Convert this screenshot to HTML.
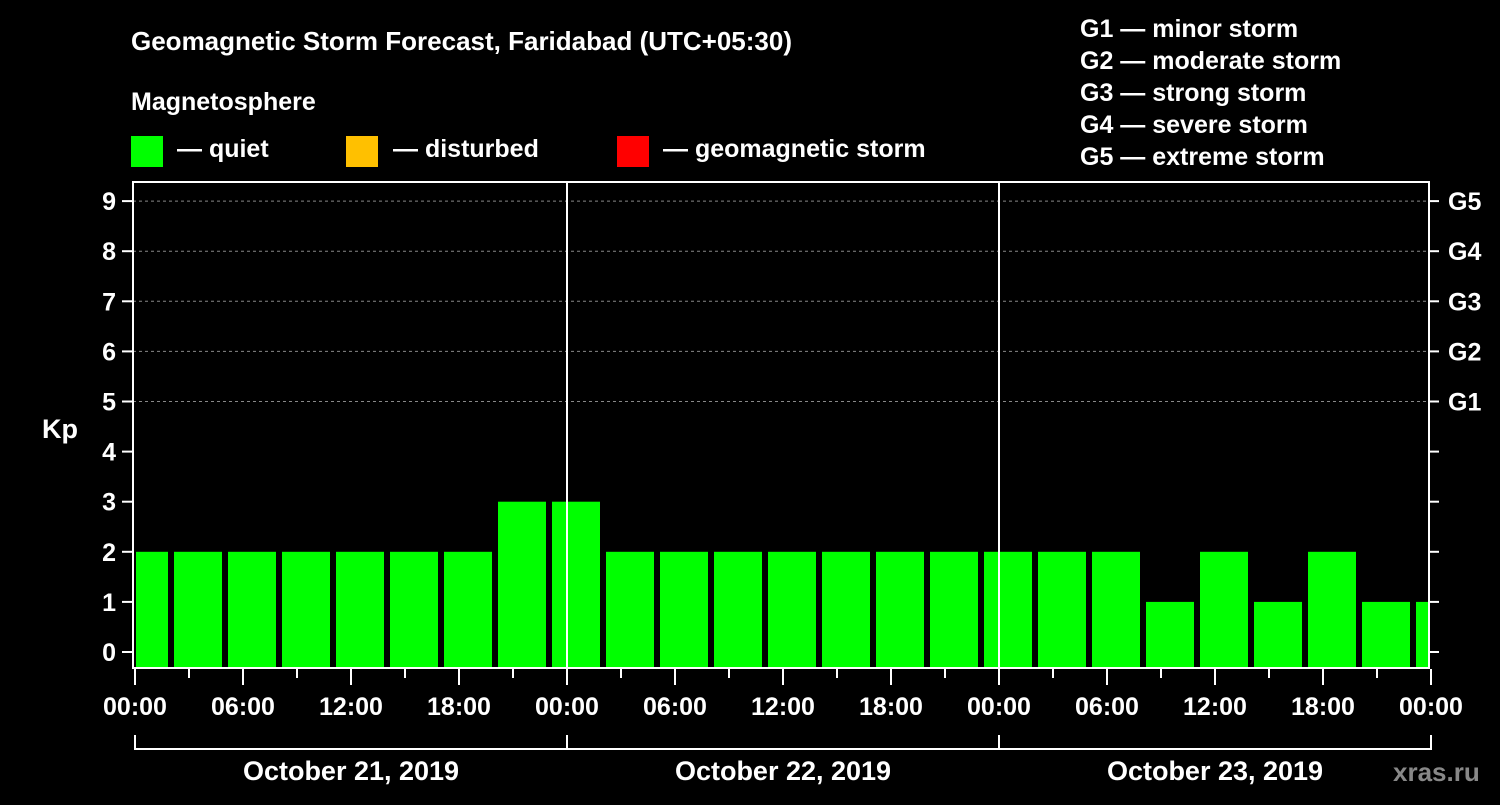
<!DOCTYPE html>
<html><head><meta charset="utf-8"><style>
body{margin:0;background:#000;width:1500px;height:800px;overflow:hidden}
svg text{font-family:"Liberation Sans",sans-serif;font-weight:bold;fill:#fff}
</style></head><body>
<svg id="chart" width="1500" height="800" xmlns="http://www.w3.org/2000/svg">
<text x="131" y="50" font-size="26">Geomagnetic Storm Forecast, Faridabad (UTC+05:30)</text>
<text x="131" y="110" font-size="25">Magnetosphere</text>
<g>
<rect x="131" y="136" width="32" height="31" fill="#00ff00"/>
<text x="177" y="157" font-size="25">— quiet</text>
<rect x="346" y="136" width="32" height="31" fill="#ffc000"/>
<text x="393" y="157" font-size="25">— disturbed</text>
<rect x="617" y="136" width="32" height="31" fill="#ff0000"/>
<text x="663" y="157" font-size="25">— geomagnetic storm</text>
</g>
<g font-size="25">
<text x="1080" y="37">G1 — minor storm</text>
<text x="1080" y="69">G2 — moderate storm</text>
<text x="1080" y="101">G3 — strong storm</text>
<text x="1080" y="133">G4 — severe storm</text>
<text x="1080" y="165">G5 — extreme storm</text>
</g>
<text x="42" y="438" font-size="27">Kp</text>
<text x="1393" y="781" font-size="26" fill="#888" style="fill:#888">xras.ru</text>
<g id="plot"></g>
</svg>
<script>
const kpValues=[2,2,2,2,2,2,2,3,3,2,2,2,2,2,2,2,2,2,2,1,2,1,2,1,1];
const yTicks=[0,1,2,3,4,5,6,7,8,9];
const gLabels=["G1","G2","G3","G4","G5"];
const gLevels=[5,6,7,8,9];
const xTickLabels=["00:00","06:00","12:00","18:00","00:00","06:00","12:00","18:00","00:00","06:00","12:00","18:00","00:00"];
const dayLabels=["October 21, 2019","October 22, 2019","October 23, 2019"];
const NS="http://www.w3.org/2000/svg";
const L=133,R=1429,T=182,B=668;
const x=h=>135+h*18;          // hours from Oct 21 00:00 local
const y=v=>652-v*50.1;
const g=document.getElementById('plot');
function mk(tag,attrs,parent){const e=document.createElementNS(NS,tag);for(const k in attrs)e.setAttribute(k,attrs[k]);(parent||g).appendChild(e);return e;}
// grid
gLevels.forEach(v=>{const l=mk('line',{x1:L,x2:R,y1:y(v),y2:y(v),stroke:'#888','stroke-dasharray':'3,3','stroke-width':1});

});
// bars (3h intervals, offset by timezone)
kpValues.forEach((v,i)=>{
  const c=x(0.5+3*i);let x0=Math.max(c-24,136),x1=Math.min(c+24,1428);
  const col=v>=5?'#ff0000':(v>=4?'#ffc000':'#00ff00');
  const r=mk('rect',{x:x0,y:y(v),width:x1-x0,height:B-1-y(v),fill:col});
  
  
});
// day separators
[1,2].forEach(d=>{const l=mk('line',{x1:x(24*d),x2:x(24*d),y1:T,y2:B,stroke:'#fff','stroke-width':2});

});
// frame
const f=mk('rect',{x:L,y:T,width:R-L,height:B-T,fill:'none',stroke:'#fff','stroke-width':2});


// y ticks
yTicks.forEach(v=>{
  mk('line',{x1:122,x2:L,y1:y(v),y2:y(v),stroke:'#fff','stroke-width':2});
  mk('line',{x1:R,x2:R+10,y1:y(v),y2:y(v),stroke:'#fff','stroke-width':2});
  const t=mk('text',{x:116,y:y(v)+9,'font-size':25,'text-anchor':'end'});t.textContent=v;
  
  
});
gLabels.forEach((s,i)=>{const t=mk('text',{x:1448,y:y(gLevels[i])+9,'font-size':25});t.textContent=s;

});
// x ticks
for(let h=0;h<=72;h+=3){const major=h%6===0;mk('line',{x1:x(h),x2:x(h),y1:B+1,y2:B+(major?17:10),stroke:'#fff','stroke-width':2});}
xTickLabels.forEach((s,i)=>{const t=mk('text',{x:x(6*i),y:715,'font-size':25,'text-anchor':'middle'});t.textContent=s;

});
// day brackets
mk('polyline',{points:`${x(0)},735 ${x(0)},749 ${x(72)},749 ${x(72)},735`,fill:'none',stroke:'#fff','stroke-width':2});
[1,2].forEach(d=>mk('line',{x1:x(24*d),x2:x(24*d),y1:735,y2:749,stroke:'#fff','stroke-width':2}));
dayLabels.forEach((s,i)=>{const t=mk('text',{x:x(24*i+12),y:780,'font-size':27,'text-anchor':'middle'});t.textContent=s;

});
</script>
</body></html>
